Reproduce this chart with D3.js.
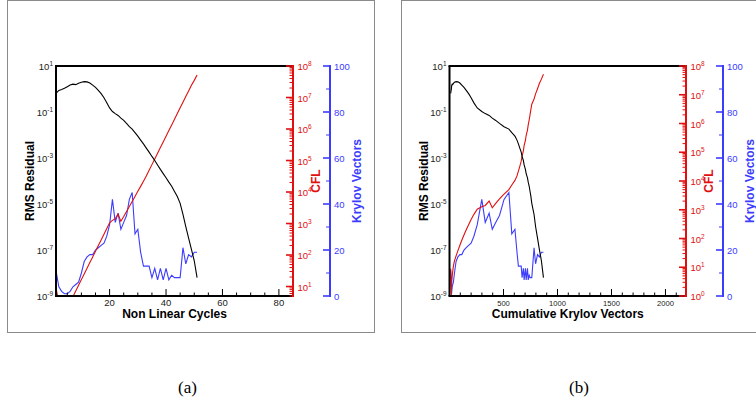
<!DOCTYPE html>
<html><head><meta charset="utf-8">
<script src="https://cdn.jsdelivr.net/npm/d3@7"></script>
<style>body{margin:0;background:#fff}svg{display:block}</style>
</head><body>
<svg id="chart" width="756" height="404"></svg>
<script>
// ---------- data ----------
const cycles = [1,2,3,4,5,6,7,8,9,10,11,12,13,14,15,16,17,18,19,20,21,22,23,24,25,26,27,28,29,30,
  31,32,33,34,35,36,37,38,39,40,41,42,43,44,45,46,47,48,49,50,51];
const rmsResidual = [6.5e-1,8.7e-1,9.5e-1,1.07,1.26,1.48,1.62,1.55,1.78,1.95,2.09,2.04,1.82,1.48,1.17,
  8.7e-1,6.3e-1,4.2e-1,2.5e-1,1.5e-1,1.05e-1,8.5e-2,7.1e-2,5.4e-2,4.3e-2,3.2e-2,2.3e-2,1.8e-2,1.26e-2,8.9e-3,
  6.0e-3,4.1e-3,2.7e-3,1.8e-3,1.17e-3,7.8e-4,5.0e-4,3.2e-4,2.1e-4,1.38e-4,8.9e-5,5.9e-5,3.5e-5,2.1e-5,1.07e-5,
  3.5e-6,1.05e-6,3.3e-7,1.07e-7,3.4e-8,6.3e-9];
const cfl = [8.9,3.2,1.0,1.48,2.19,3.2,4.8,7.2,11,16.6,25,38,58,87,132,200,302,457,692,1050,
  1260,1410,2000,1170,1660,2400,3470,5000,7240,1.05e4,1.51e4,2.19e4,3.24e4,4.9e4,7.4e4,1.12e5,1.7e5,2.57e5,3.9e5,5.9e5,
  8.9e5,1.35e6,2.04e6,3.1e6,4.7e6,7.1e6,1.07e7,1.62e7,2.45e7,3.5e7,5.2e7];
const krylov = [11,4,2,1,1,2,4,5,6,10,15,17,18,18,20,21,22,23,26,31,
  42,32,36,29,32,35,42,45,27,29,19,13,13,13,8,12,7,12,7,12,
  7,9,8,8,8,21,14,18,17,19,19];
const cumulativeKrylov = Array.from(d3.cumsum(krylov));

const xTicksA = [20,40,60,80];
const xTicksB = [500,1000,1500,2000];
const residualLabelExps = [-9,-7,-5,-3,-1,1];
const krylovTicks = [0,20,40,60,80,100];

// ---------- styling ----------
const RED = "#e01010", BLUE = "#3c3cff";
const FONT = "'Liberation Sans', Arial, Helvetica, sans-serif";
const svg = d3.select("#chart");

const panels = [
  {frameX:7.5, left:56, right:293, xDomain:[1,85], xs:cycles, xTicks:xTicksA, minorStep:5,
   xTickFont:9.5, xTitle:"Non Linear Cycles", cflDomain:[5,1e8], caption:"(a)", capX:187.5},
  {frameX:401.5, left:449.5, right:686, xDomain:[0,2190], xs:cumulativeKrylov, xTicks:xTicksB, minorStep:100,
   xTickFont:7.6, xTitle:"Cumulative Krylov Vectors", cflDomain:[1,1e8], caption:"(b)", capX:579}
];
const plotTop = 66, plotBottom = 296;

function sup(sel, base, exp, fs) {
  sel.append("tspan").text(base);
  sel.append("tspan").attr("dy", -fs*0.42).attr("font-size", fs*0.68).text(exp);
}

panels.forEach((p, i) => {
  const g = svg.append("g");
  g.append("rect").attr("x", p.frameX).attr("y", 0.5).attr("width", 367).attr("height", 332)
    .attr("fill", "none").attr("stroke", "#8a8a8a").attr("stroke-width", 1);

  const x = d3.scaleLinear().domain(p.xDomain).range([p.left, p.right]);
  const y = d3.scaleLog().domain([1e-9, 10]).range([plotBottom, plotTop]);
  const yc = d3.scaleLog().domain(p.cflDomain).range([plotBottom, plotTop]);
  const yk = d3.scaleLinear().domain([0, 100]).range([plotBottom, plotTop]);

  const clipId = "clip" + i;
  g.append("clipPath").attr("id", clipId).append("rect")
    .attr("x", p.left).attr("y", plotTop).attr("width", p.right - p.left).attr("height", plotBottom - plotTop);

  const lines = g.append("g").attr("clip-path", `url(#${clipId})`).attr("fill", "none");
  const idx = d3.range(cycles.length);
  lines.append("path").attr("stroke", BLUE).attr("stroke-width", 1.1)
    .attr("d", d3.line().x(j => x(p.xs[j])).y(j => yk(krylov[j]))(idx));
  lines.append("path").attr("stroke", RED).attr("stroke-width", 1.1)
    .attr("d", d3.line().x(j => x(p.xs[j])).y(j => yc(cfl[j]))(idx));
  lines.append("path").attr("stroke", "#000").attr("stroke-width", 1.1)
    .attr("d", d3.line().x(j => x(p.xs[j])).y(j => y(rmsResidual[j]))(idx));

  const minorX = d3.range(Math.ceil(p.xDomain[0]/p.minorStep)*p.minorStep, p.xDomain[1]+1e-9, p.minorStep);
  const tk = g.append("g").attr("stroke", "#000").attr("stroke-width", 1);
  minorX.forEach(v => {
    const major = p.xTicks.includes(v);
    tk.append("line").attr("x1", x(v)).attr("x2", x(v)).attr("y1", plotBottom).attr("y2", plotBottom - (major ? 7 : 3.5));
  });
  p.xTicks.forEach(v => {
    g.append("text").attr("x", x(v)).attr("y", plotBottom + 10).attr("text-anchor", "middle")
      .attr("font-family", FONT).attr("font-size", p.xTickFont).attr("fill", "#222").text(v);
  });

  residualLabelExps.forEach(e => {
    const t = g.append("text").attr("x", p.left - 3).attr("y", y(Math.pow(10, e)) + 4)
      .attr("text-anchor", "end").attr("font-family", FONT).attr("font-size", 9.5).attr("fill", "#222");
    sup(t, "10", String(e), 9.5);
  });

  g.append("line").attr("x1", p.left).attr("x2", p.left).attr("y1", plotTop).attr("y2", plotBottom).attr("stroke", "#000").attr("stroke-width", 2);
  g.append("line").attr("x1", p.left - 1).attr("x2", p.right).attr("y1", plotBottom).attr("y2", plotBottom).attr("stroke", "#000").attr("stroke-width", 2);
  g.append("line").attr("x1", p.left - 1).attr("x2", p.right).attr("y1", plotTop).attr("y2", plotTop).attr("stroke", "#000").attr("stroke-width", 2);

  const ra = g.append("g").attr("stroke", RED).attr("stroke-width", 1);
  const lo = Math.floor(Math.log10(p.cflDomain[0])), hi = Math.log10(p.cflDomain[1]);
  for (let e = lo; e <= hi; e++) {
    for (let k = 1; k <= 9; k++) {
      const v = k * Math.pow(10, e);
      if (v < p.cflDomain[0] - 1e-9 || v > p.cflDomain[1] + 1e-9) continue;
      ra.append("line").attr("x1", p.right).attr("x2", p.right - (k === 1 ? 7 : 3.5))
        .attr("y1", yc(v)).attr("y2", yc(v)).attr("stroke-width", k === 1 ? 1.6 : 1);
    }
    if (Math.pow(10, e) >= p.cflDomain[0]) {
      const t = g.append("text").attr("x", p.right + 4.5).attr("y", yc(Math.pow(10, e)) + 4)
        .attr("font-family", FONT).attr("font-size", 9.5).attr("fill", RED);
      sup(t, "10", String(e), 9.5);
    }
  }
  g.append("line").attr("x1", p.right).attr("x2", p.right).attr("y1", plotTop - 1).attr("y2", plotBottom + 1).attr("stroke", RED).attr("stroke-width", 2);

  const bx = p.right + 37;
  const ba = g.append("g").attr("stroke", BLUE);
  d3.range(0, 101, 10).forEach(v => {
    const major = v % 20 === 0;
    ba.append("line").attr("x1", bx).attr("x2", bx - (major ? 7 : 4)).attr("y1", yk(v)).attr("y2", yk(v))
      .attr("stroke-width", major ? 1.6 : 1);
  });
  g.append("line").attr("x1", bx).attr("x2", bx).attr("y1", plotTop - 1).attr("y2", plotBottom + 1).attr("stroke", BLUE).attr("stroke-width", 2);
  krylovTicks.forEach(v => {
    g.append("text").attr("x", bx + 4).attr("y", yk(v) + 3.5).attr("font-family", FONT).attr("font-size", 9.5)
      .attr("fill", BLUE).text(v);
  });

  g.append("text").attr("x", (p.left + p.right) / 2).attr("y", 318).attr("text-anchor", "middle")
    .attr("font-family", FONT).attr("font-weight", "bold").attr("font-size", 12).attr("fill", "#000").text(p.xTitle);
  const midY = (plotTop + plotBottom) / 2;
  [[p.left - 26, "RMS Residual", "#000"], [p.right + 23, "CFL", RED], [bx + 27, "Krylov Vectors", BLUE]].forEach(([tx, s, c]) => {
    g.append("text").attr("transform", `translate(${tx},${midY}) rotate(-90)`).attr("text-anchor", "middle")
      .attr("dy", "0.35em").attr("font-family", FONT).attr("font-weight", "bold").attr("font-size", 12)
      .attr("fill", c).text(s);
  });

  g.append("text").attr("x", p.capX).attr("y", 392.5).attr("text-anchor", "middle")
    .attr("font-family", "'Liberation Serif', 'DejaVu Serif', serif").attr("font-size", 17).attr("fill", "#000").text(p.caption);
});
</script>
</body></html>
